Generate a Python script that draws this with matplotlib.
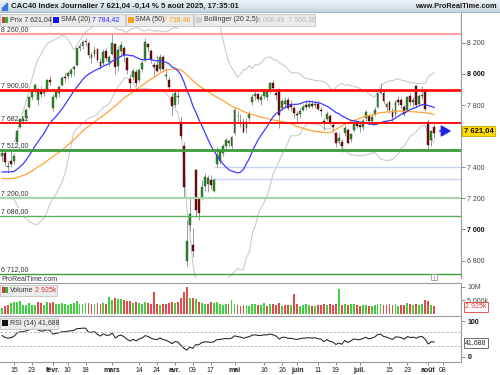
import matplotlib
matplotlib.use("Agg")
import matplotlib.pyplot as plt
import numpy as np
import pandas as pd
from matplotlib.patches import Rectangle
from matplotlib.colors import LinearSegmentedColormap

plt.rcParams['font.family'] = ['Liberation Sans', 'DejaVu Sans']

# CAC40 daily candles, 9 Jan -> 5 Aug 2025 (one row per month)
opens = [
    7470, 7490, 7400, 7440, 7440, 7560, 7660, 7700, 7720, 7790, 7850, 7900, 7830, 7900, 7880, 7900, 7960,
    7780, 7850, 7880, 7930, 7980, 7990, 8000, 8030, 8060, 8170, 8180, 8210, 8200, 8100, 8130, 8160, 8080, 8070, 8150, 8080,
    8130, 8190, 8050, 8150, 8170, 8100, 7970, 7980, 8010, 7960, 8030, 8090, 8190, 8150, 8060, 8060, 8030, 8110, 7990, 7960, 7850,
    7800, 7850, 7690, 7540, 6800, 7030, 6900, 7380, 7200, 7200, 7280, 7290, 7320, 7250, 7420, 7440, 7490, 7540, 7570, 7540,
    7620, 7730, 7700, 7690, 7650, 7720, 7820, 7860, 7870, 7830, 7860, 7850, 7890, 7940, 7880, 7890, 7780, 7810, 7830, 7800, 7780,
    7740, 7740, 7770, 7800, 7790, 7810, 7800, 7810, 7770, 7700, 7710, 7730, 7670, 7620, 7570, 7560, 7620, 7640, 7580, 7640, 7680,
    7670, 7660, 7720, 7730, 7700, 7740, 7790, 7880, 7880, 7790, 7820, 7760, 7740, 7830, 7830, 7790, 7770, 7860, 7820, 7925, 7810, 7860, 7890,
    7690, 7575, 7660,
]
highs = [
    7510, 7505, 7440, 7505, 7490, 7640, 7720, 7730, 7780, 7860, 7900, 7940, 7910, 7920, 7910, 7970, 7990,
    7870, 7900, 7930, 7990, 8010, 8020, 8040, 8060, 8170, 8200, 8220, 8230, 8210, 8140, 8180, 8170, 8100, 8160, 8170, 8120,
    8257, 8200, 8180, 8210, 8180, 8110, 8000, 8040, 8030, 8040, 8090, 8230, 8200, 8160, 8080, 8120, 8130, 8120, 8040, 7980, 7880,
    7900, 7890, 7730, 7560, 7060, 7200, 7010, 7390, 7210, 7320, 7360, 7350, 7350, 7330, 7530, 7510, 7550, 7590, 7580, 7600,
    7790, 7760, 7740, 7720, 7720, 7760, 7870, 7890, 7880, 7870, 7900, 7890, 7950, 7960, 7900, 7910, 7840, 7850, 7850, 7830, 7800,
    7760, 7780, 7810, 7830, 7830, 7830, 7830, 7830, 7790, 7720, 7760, 7740, 7700, 7630, 7620, 7580, 7670, 7650, 7620, 7700, 7700,
    7700, 7720, 7770, 7740, 7740, 7790, 7880, 7940, 7890, 7820, 7830, 7780, 7830, 7860, 7850, 7800, 7860, 7880, 7850, 7930, 7870, 7920, 7890,
    7710, 7640, 7680,
]
lows = [
    7440, 7410, 7360, 7400, 7420, 7550, 7650, 7680, 7700, 7780, 7830, 7880, 7800, 7850, 7860, 7890, 7930,
    7760, 7840, 7850, 7920, 7950, 7970, 7980, 7990, 8050, 8150, 8160, 8180, 8100, 8070, 8110, 8080, 8030, 8060, 8090, 8050,
    8120, 8000, 8020, 8120, 8080, 8000, 7900, 7960, 7920, 7950, 8010, 8080, 8150, 8070, 7980, 8010, 8020, 8020, 7960, 7900, 7730,
    7790, 7810, 7580, 7200, 6763, 6990, 6820, 7080, 7060, 7190, 7250, 7240, 7260, 7240, 7400, 7420, 7470, 7520, 7530, 7510,
    7610, 7690, 7660, 7620, 7620, 7700, 7800, 7830, 7820, 7800, 7840, 7830, 7880, 7890, 7830, 7650, 7770, 7780, 7770, 7760, 7720,
    7690, 7720, 7760, 7770, 7780, 7780, 7780, 7770, 7730, 7640, 7700, 7670, 7640, 7530, 7550, 7500, 7600, 7550, 7560, 7630, 7650,
    7630, 7640, 7700, 7680, 7680, 7730, 7780, 7870, 7810, 7760, 7750, 7690, 7730, 7800, 7780, 7730, 7760, 7800, 7790, 7790, 7800, 7840, 7760,
    7510, 7540, 7590,
]
closes = [
    7490, 7431, 7408, 7423, 7475, 7634, 7709, 7710, 7770, 7853, 7892, 7927, 7906, 7873, 7896, 7959, 7950,
    7854, 7885, 7917, 7973, 7973, 8007, 8028, 8042, 8164, 8179, 8206, 8206, 8124, 8121, 8154, 8091, 8051, 8143, 8102, 8111,
    8199, 8047, 8152, 8187, 8120, 8024, 7941, 8018, 7939, 8028, 8073, 8206, 8172, 8095, 8042, 8022, 8109, 8030, 7990, 7917, 7791,
    7880, 7858, 7598, 7275, 6927, 7100, 6863, 7126, 7105, 7273, 7335, 7330, 7286, 7316, 7482, 7502, 7536, 7573, 7555, 7593,
    7770, 7728, 7696, 7626, 7694, 7743, 7850, 7873, 7836, 7853, 7886, 7883, 7944, 7908, 7864, 7734, 7828, 7826, 7779, 7787, 7752,
    7737, 7763, 7790, 7790, 7804, 7791, 7805, 7775, 7765, 7684, 7742, 7683, 7656, 7553, 7590, 7537, 7653, 7558, 7615, 7692, 7666,
    7662, 7700, 7756, 7697, 7723, 7767, 7879, 7902, 7829, 7808, 7766, 7722, 7822, 7822, 7798, 7745, 7851, 7818, 7834, 7800, 7857, 7861, 7772,
    7546, 7632, 7621,
]
# volume in millions
volumes = [
    2.2, 2.9, 3.3, 3.9, 4.2, 4.2, 4.6, 3.2, 3.4, 3.9, 3.4, 3.3, 4.4, 3.9, 3.4, 4.2, 4.0,
    4.5, 3.6, 3.5, 3.9, 3.7, 3.3, 3.5, 3.9, 4.6, 3.8, 3.6, 3.9, 4.0, 3.7, 3.8, 4.1, 3.6, 3.9, 3.7, 6.3,
    5.0, 6.0, 5.6, 5.4, 5.1, 4.6, 4.9, 4.0, 4.2, 3.9, 3.8, 4.3, 3.9, 3.6, 8.1, 3.6, 3.4, 3.8, 3.7, 4.1, 4.5,
    3.9, 4.2, 5.7, 8.1, 9.9, 5.7, 6.0, 5.4, 4.3, 4.0, 3.8, 3.5, 4.4, 3.9, 4.2, 3.6, 3.3, 3.5, 3.7, 5.1,
    3.6, 3.2, 3.1, 3.4, 3.3, 3.0, 3.8, 3.5, 3.3, 3.4, 3.9, 3.1, 3.5, 3.6, 3.2, 4.1, 2.9, 3.2, 3.4, 3.3, 7.2,
    3.5, 3.1, 3.3, 3.6, 3.3, 2.9, 3.1, 3.4, 3.2, 3.8, 3.4, 3.5, 3.3, 3.6, 9.1, 3.4, 3.7, 3.3, 3.5, 3.6, 3.2,
    3.0, 3.3, 3.2, 2.8, 3.0, 3.4, 3.7, 3.8, 3.3, 3.2, 3.5, 3.4, 3.6, 3.1, 3.2, 3.3, 3.9, 3.5, 3.4, 3.5, 3.3, 3.5, 5.1,
    4.9, 3.2, 2.925,
]
# closes before 9 Jan, only to warm up the SMA / Bollinger / RSI
warmup_closes = [
    7536, 7508, 7426, 7350, 7409, 7373, 7407, 7370, 7425, 7338,
    7387, 7225, 7221, 7311, 7269, 7278, 7199, 7197, 7195, 7255,
    7257, 7194, 7143, 7143, 7235, 7209, 7236, 7300, 7330, 7427,
    7412, 7402, 7423, 7420, 7409, 7366, 7365, 7385, 7294, 7274,
    7272, 7313, 7355, 7313, 7381, 7282, 7282, 7427, 7490, 7444,
]

holidays = ["2025-04-18", "2025-04-21", "2025-05-01"]
tick_dates = ["2025-01-15", "2025-01-23", "2025-02-03", "2025-02-10", "2025-02-18", "2025-03-03",
              "2025-03-14", "2025-03-24", "2025-04-01", "2025-04-09", "2025-04-17", "2025-05-02",
              "2025-05-16", "2025-05-26", "2025-06-02", "2025-06-11", "2025-06-19", "2025-07-01",
              "2025-07-15", "2025-07-23", "2025-08-01", "2025-08-08"]
tick_labels = ["15", "23", "févr.", "10", "18", "mars", "14", "24", "avr.", "09", "17", "mai",
               "16", "26", "juin", "11", "19", "juil.", "15", "23", "août", "08"]

levels = [8260, 7900, 7682.12, 7512, 7200, 7086, 6712]
level_colors = ['#ff9c9c', '#ff1010', '#ff1010', '#3c9c3c', '#a9d5a9', '#5fae5f', '#3c9c3c']
level_widths = [1.5, 2.0, 1.4, 2.0, 1.5, 1.0, 1.0]
supports = [7400, 7323]
support_from = [71.2, 70.6]

price_ticks = [6800, 7000, 7200, 7400, 7800, 8000, 8200]


def fr(v, dec=2):
    return f"{v:,.{dec}f}".replace(",", " ").replace(".", ",")


days = pd.bdate_range("2025-01-09", "2025-08-29")
days = days[~days.isin(pd.to_datetime(holidays))]
tick_x = [days.get_loc(pd.Timestamp(d)) for d in tick_dates]

o = np.array(opens, float)
h = np.array(highs, float)
l = np.array(lows, float)
c = np.array(closes, float)
x = np.arange(len(c))
nw = len(warmup_closes)

allc = pd.Series(warmup_closes + closes, dtype=float)
sma20 = allc.rolling(20).mean().to_numpy()[nw:]
sma50 = allc.rolling(50).mean().to_numpy()[nw:]
sd20 = allc.rolling(20).std(ddof=0).to_numpy()[nw:]
boll_up = sma20 + 2.5 * sd20
boll_dn = sma20 - 2.5 * sd20
d = allc.diff()
gain = d.clip(lower=0).ewm(alpha=1 / 14, adjust=False).mean()
loss = (-d.clip(upper=0)).ewm(alpha=1 / 14, adjust=False).mean()
rsi = (100 - 100 / (1 + gain / loss)).to_numpy()[nw:]

W, H = 500, 375
fig = plt.figure(figsize=(W / 100, H / 100), dpi=100)


def panel(x0, y0, x1, y1, **kw):
    return fig.add_axes([x0 / W, 1 - y1 / H, (x1 - x0) / W, (y1 - y0) / H], **kw)


ax = panel(0, 27, 461, 278)
axv = panel(0, 283, 461, 315)
axr = panel(0, 316, 461, 362)
XL = (-0.7, 154)
for a in (ax, axv, axr):
    a.set_xlim(*XL)
    a.spines['left'].set_visible(False)
    for s in a.spines.values():
        s.set_color('#9a9a9a')
        s.set_linewidth(0.8)
    a.yaxis.tick_right()
    a.tick_params(axis='y', length=3, width=0.6, color='#777777', labelsize=5, pad=1.5, labelcolor='#444444')
ax.spines['top'].set_visible(False)
ax.spines['bottom'].set_visible(False)
axv.spines['bottom'].set_visible(False)
for a in (ax, axv):
    a.set_xticks([])

# ---- price panel
ax.set_ylim(6688, 8302)
ax.plot(x, boll_up, color='#cbcbcb', lw=0.8, zorder=1)
ax.plot(x, boll_dn, color='#cbcbcb', lw=0.8, zorder=1)
for lv in levels:
    ax.text(-0.5, lv + 6, fr(lv), fontsize=5, color='#333333', va='bottom', ha='left', zorder=2,
            bbox=dict(boxstyle='square,pad=0.05', fc='white', ec='none'))
for y0, x0 in zip(supports, support_from):
    ax.hlines(y0, x0, XL[1], color='#c9d3fa', lw=1.0, zorder=2)

up = c >= o
ax.vlines(x, l, h, color='#8a8a8a', lw=0.6, zorder=3)
body = np.maximum(np.abs(c - o), 4)
ax.bar(x, body, bottom=np.minimum(o, c), width=0.62,
       color=np.where(up, '#2e8c2e', '#7c0c0c'), edgecolor=np.where(up, '#1d4d1d', '#3d0000'),
       lw=0.3, zorder=4)
ax.plot(x, sma50, color='#ffa436', lw=0.9, zorder=5)
ax.plot(x, sma20, color='#3b3bff', lw=0.9, zorder=5)
for lv, col, lw in zip(levels, level_colors, level_widths):
    ax.axhline(lv, color=col, lw=lw, zorder=6)

ax.set_yticks(price_ticks)
ax.set_yticklabels([fr(v, 0) for v in price_ticks])
for t, v in zip(ax.get_yticklabels(), price_ticks):
    if v % 1000 == 0:
        t.set_fontweight('bold')
        t.set_color('#111111')

# ---- volume panel
prev = np.concatenate([[warmup_closes[-1]], c[:-1]])
vcol = np.where(c >= prev, '#3fcf3f', '#e04a4a')
axv.bar(x, volumes, width=0.62, color=vcol, lw=0)
axv.set_ylim(-0.36, 11.3)
axv.set_yticks([5, 10])
axv.set_yticklabels(['5 000k', '10M'])

# ---- RSI panel
axr.plot(x, rsi, color='#222222', lw=0.75)
for lvl in (70, 30):
    axr.axhline(lvl, color='#b0b0b0', lw=0.6, ls=(0, (3, 2)))
axr.set_ylim(-13.9, 113.9)
axr.set_yticks([0, 100])
axr.set_yticklabels(['0', '100'], fontweight='bold', color='#111111')
axr.set_xticks(tick_x)
axr.set_xticklabels(tick_labels)
axr.tick_params(axis='x', length=2, width=0.6, color='#777777', labelsize=5, pad=1.5, labelcolor='#222222')
for t, lab in zip(axr.get_xticklabels(), tick_labels):
    if not lab.isdigit():
        t.set_fontweight('bold')

# ---- overlay in pixel coordinates
top = panel(0, 0, 500, 375, zorder=10)
top.set_xlim(0, W)
top.set_ylim(H, 0)
top.axis('off')

grad = np.linspace(0, 1, 24).reshape(-1, 1)
top.imshow(grad, extent=(0, 500, 12, 0), aspect='auto',
           cmap=LinearSegmentedColormap.from_list('bar', ['#eef4f8', '#c6d7e3']), zorder=1)
top.plot([0, 500], [12.3, 12.3], color='#a9bccb', lw=0.8)
for i, hh in enumerate([3, 5, 7]):
    top.add_patch(Rectangle((2 + i * 2, 10 - hh), 1.2, hh, color='#3d78d8', zorder=2))
top.text(11, 6.3, "CAC40 Index Journalier 7 621,04 -0,14 % 5 août 2025, 17:35:01",
         fontsize=5.55, fontweight='bold', color='#1a1a1a', va='center', ha='left', zorder=3)
top.text(497, 6.3, "www.ProRealTime.com", fontsize=5.3, fontweight='bold', color='#1a1a1a',
         va='center', ha='right', zorder=3)
top.plot([461, 461], [12.5, 27], color='#9a9a9a', lw=0.8)


def legend_box(x0, x1, y0, y1):
    top.add_patch(Rectangle((x0, y0), x1 - x0, y1 - y0, fc='#ebebeb', ec='#c3c3c3', lw=0.6))


def two_tone(x0, y0):
    top.add_patch(Rectangle((x0, y0), 3, 6, color='#d63a3a', lw=0))
    top.add_patch(Rectangle((x0 + 3, y0), 3, 6, color='#35b535', lw=0))


ly = 19.6
legend_box(0, 50, 14, 25.5)
two_tone(2, 16.6)
top.text(10, ly, "Prix 7 621,04", fontsize=5, color='#333333', va='center')
legend_box(51, 125, 14, 25.5)
top.add_patch(Rectangle((52.5, 16.6), 6, 6, color='#1212ff', lw=0))
top.text(61, ly, "SMA (20)", fontsize=5, color='#333333', va='center')
top.text(92, ly, "7 784,42", fontsize=5, color='#2a2aff', va='center')
legend_box(126, 193, 14, 25.5)
top.add_patch(Rectangle((127.5, 16.6), 6, 6, color='#ff9a1a', lw=0))
top.text(135, ly, "SMA (50)", fontsize=5, color='#333333', va='center')
top.text(163, ly, "7 738,48", fontsize=5, color='#ff9a1a', va='center')
legend_box(194, 315, 14, 25.5)
top.add_patch(Rectangle((195.5, 16.6), 6, 6, color='#d0d0d0', lw=0))
top.text(204, ly, "Bollinger (20 2,5)", fontsize=5, color='#333333', va='center')
top.text(257, ly, "8 008,49  7 560,36", fontsize=5, color='#b8b8b8', va='center')

top.text(1, 279.5, "ProRealTime.com", fontsize=5, color='#333333', va='center', ha='left')
top.add_patch(Rectangle((431, 274), 6, 6, fc='white', ec='#999999', lw=0.6))
top.text(434, 277.2, "i", fontsize=4, color='#666666', va='center', ha='center')

legend_box(0, 57, 284.5, 296)
two_tone(2, 287.2)
top.text(10, 290.2, "Volume", fontsize=5, color='#333333', va='center')
top.text(35, 290.2, "2 925k", fontsize=5, color='#e03a3a', va='center')
legend_box(0, 58, 317.5, 329)
top.add_patch(Rectangle((2, 320.2), 6, 6, color='#111111', lw=0))
top.text(10, 323.2, "RSI (14) 41,688", fontsize=5, color='#333333', va='center')

# current price box and arrow
top.annotate("", xy=(454, 131), xytext=(437, 131),
             arrowprops=dict(arrowstyle='-|>,head_length=0.6,head_width=0.35', color='#2323e6', lw=1.1))
top.plot([461, 464], [131, 131], color='#777777', lw=0.6)
top.text(464, 131, "7 621,04", fontsize=5.5, fontweight='bold', color='#111111', va='center', ha='left',
         bbox=dict(boxstyle='square,pad=0.2', fc='#ffd900', ec='#c7a500', lw=0.6))
top.text(465, 307, "2 925k", fontsize=5, color='#e03a3a', va='center', ha='left',
         bbox=dict(boxstyle='square,pad=0.2', fc='white', ec='#e03a3a', lw=0.6))
top.text(465, 343, "41,688", fontsize=5, color='#222222', va='center', ha='left',
         bbox=dict(boxstyle='square,pad=0.2', fc='white', ec='#555555', lw=0.6))

fig.savefig("out.png", dpi=100)
